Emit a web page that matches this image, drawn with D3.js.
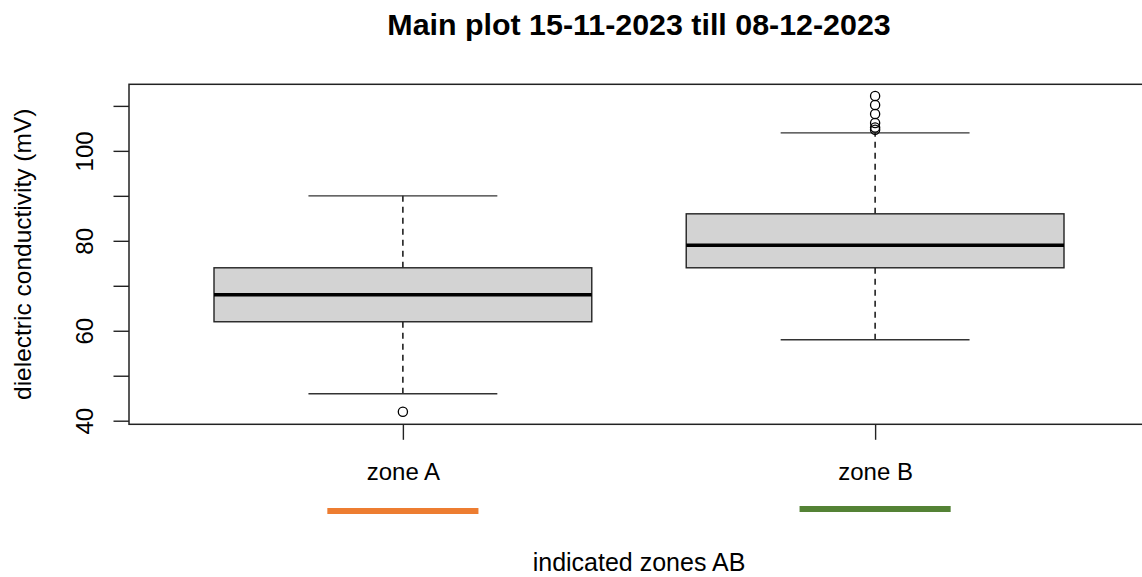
<!DOCTYPE html>
<html>
<head>
<meta charset="utf-8">
<script src="https://cdn.jsdelivr.net/npm/d3@7"></script>
<style>
  html, body { margin: 0; padding: 0; background: #fff; }
  svg { display: block; font-family: "Liberation Sans", Arial, sans-serif; }
</style>
</head>
<body>
<svg id="chart" width="1142" height="577"></svg>
<script>
// Box statistics per zone
const zones = ["zone A", "zone B"];
const whiskerLow = [46, 58];
const quartile1 = [62, 74];
const medians = [68, 79];
const quartile3 = [74, 86];
const whiskerHigh = [90, 104];
const outliersA = [42];
const outliersB = [104.7, 105.2, 106.2, 108.2, 110.2, 112.2];
const zoneColors = ["#ED7D31", "#548235"];

// Axis ticks: every 10 units, labelled every 20
const yTicks = [40, 50, 60, 70, 80, 90, 100, 110];
const yTickLabels = ["40", "", "60", "", "80", "", "100", ""];

const title = "Main plot 15-11-2023 till 08-12-2023";
const xTitle = "indicated zones AB";
const yTitle = "dielectric conductivity (mV)";

const svg = d3.select("#chart");

const plot = { left: 129, right: 1149, top: 84.3, bottom: 424.3 };

const x = d3.scaleLinear().domain([0.42, 2.58]).range([plot.left, plot.right]);
const y = d3.scaleLinear().domain([39.2, 114.8]).range([plot.bottom, plot.top]);

const boxHalf = 0.4;   // box width 0.8
const capHalf = 0.2;   // staple width 0.4

const rows = zones.map((z, i) => ({
  name: z, pos: i + 1,
  lo: whiskerLow[i], q1: quartile1[i], med: medians[i], q3: quartile3[i], hi: whiskerHigh[i],
  out: i === 0 ? outliersA : outliersB,
  color: zoneColors[i]
}));

const g = svg.append("g");

// Whiskers (dashed) and staples
rows.forEach(d => {
  g.append("line")
    .attr("x1", x(d.pos)).attr("x2", x(d.pos))
    .attr("y1", y(d.q3)).attr("y2", y(d.hi))
    .attr("stroke", "#000").attr("stroke-width", 1.4).attr("stroke-dasharray", "6,5");
  g.append("line")
    .attr("x1", x(d.pos)).attr("x2", x(d.pos))
    .attr("y1", y(d.q1)).attr("y2", y(d.lo))
    .attr("stroke", "#000").attr("stroke-width", 1.4).attr("stroke-dasharray", "6,5");
  [d.lo, d.hi].forEach(v => {
    g.append("line")
      .attr("x1", x(d.pos - capHalf)).attr("x2", x(d.pos + capHalf))
      .attr("y1", y(v)).attr("y2", y(v))
      .attr("stroke", "#333").attr("stroke-width", 1.4);
  });
});

// Boxes
g.selectAll("rect.box").data(rows).join("rect")
  .attr("class", "box")
  .attr("x", d => x(d.pos - boxHalf))
  .attr("width", d => x(d.pos + boxHalf) - x(d.pos - boxHalf))
  .attr("y", d => y(d.q3))
  .attr("height", d => y(d.q1) - y(d.q3))
  .attr("fill", "#D3D3D3")
  .attr("stroke", "#222").attr("stroke-width", 1.4);

// Medians
g.selectAll("line.median").data(rows).join("line")
  .attr("class", "median")
  .attr("x1", d => x(d.pos - boxHalf)).attr("x2", d => x(d.pos + boxHalf))
  .attr("y1", d => y(d.med)).attr("y2", d => y(d.med))
  .attr("stroke", "#000").attr("stroke-width", 3.6);

// Outliers
rows.forEach(d => {
  g.selectAll(null).data(d.out).join("circle")
    .attr("cx", x(d.pos)).attr("cy", v => y(v))
    .attr("r", 4.6)
    .attr("fill", "none").attr("stroke", "#000").attr("stroke-width", 1.3);
});

// Plot frame
svg.append("rect")
  .attr("x", plot.left).attr("y", plot.top)
  .attr("width", plot.right - plot.left).attr("height", plot.bottom - plot.top)
  .attr("fill", "none").attr("stroke", "#222").attr("stroke-width", 1.5);

// Y axis
const yAxis = d3.axisLeft(y).tickValues(yTicks)
  .tickFormat((d, i) => yTickLabels[i]).tickSize(15.5).tickPadding(0);
const ya = svg.append("g").attr("transform", `translate(${plot.left},0)`).call(yAxis);
ya.select(".domain").remove();
ya.selectAll(".tick line").attr("stroke", "#222").attr("stroke-width", 1.4);
ya.selectAll(".tick text")
  .attr("x", null).attr("dy", null)
  .attr("transform", "translate(-36,0) rotate(-90)")
  .attr("text-anchor", "middle")
  .attr("font-size", 24).attr("font-family", "Liberation Sans, Arial, sans-serif")
  .attr("fill", "#000");

// X axis
const xAxis = d3.axisBottom(x).tickValues(rows.map(d => d.pos))
  .tickFormat((d, i) => zones[i]).tickSize(15.5).tickPadding(0);
const xa = svg.append("g").attr("transform", `translate(0,${plot.bottom})`).call(xAxis);
xa.select(".domain").remove();
xa.selectAll(".tick line").attr("stroke", "#222").attr("stroke-width", 1.4);
xa.selectAll(".tick text")
  .attr("y", 55.7).attr("dy", null)
  .attr("font-size", 24).attr("font-family", "Liberation Sans, Arial, sans-serif")
  .attr("fill", "#000");

// Zone indicator bars under the labels
svg.selectAll("line.zone").data(rows).join("line")
  .attr("class", "zone")
  .attr("x1", d => x(d.pos - 0.16)).attr("x2", d => x(d.pos + 0.16))
  .attr("y1", (d, i) => i === 0 ? 511 : 509).attr("y2", (d, i) => i === 0 ? 511 : 509)
  .attr("stroke", d => d.color).attr("stroke-width", 6);

// Titles
const cx = (plot.left + plot.right) / 2;
svg.append("text")
  .attr("x", cx).attr("y", 35)
  .attr("text-anchor", "middle")
  .attr("font-size", 30.4).attr("font-weight", "bold")
  .text(title);

svg.append("text")
  .attr("x", cx).attr("y", 571)
  .attr("text-anchor", "middle")
  .attr("font-size", 25)
  .text(xTitle);

svg.append("text")
  .attr("transform", `translate(31,${(plot.top + plot.bottom) / 2}) rotate(-90)`)
  .attr("text-anchor", "middle")
  .attr("font-size", 24.5)
  .text(yTitle);
</script>
</body>
</html>
